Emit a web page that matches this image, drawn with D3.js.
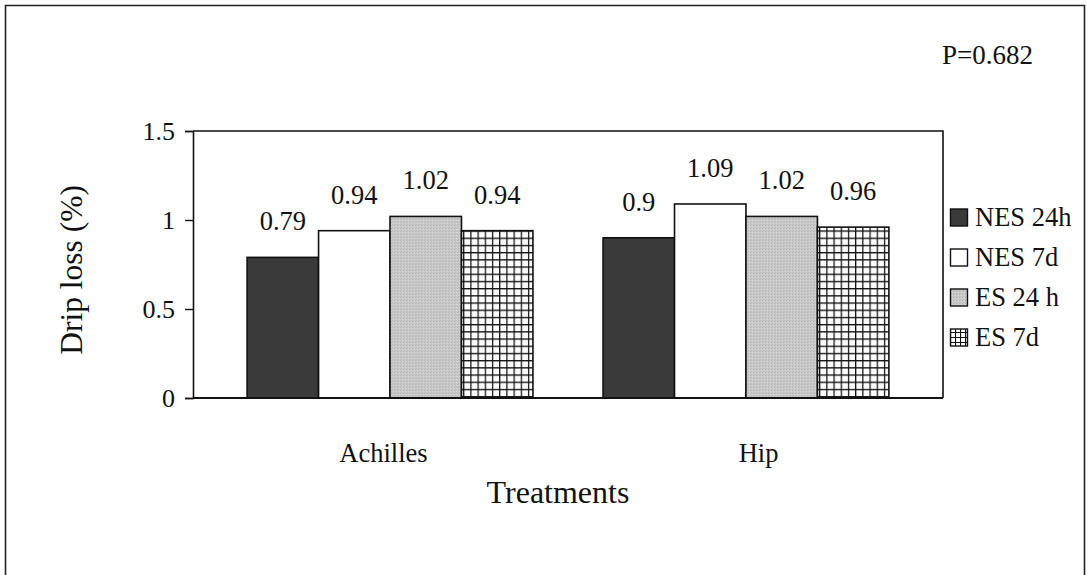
<!DOCTYPE html>
<html>
<head>
<meta charset="utf-8">
<script src="https://cdn.jsdelivr.net/npm/d3@7/dist/d3.min.js"></script>
<style>
  html, body { margin: 0; padding: 0; background: #fff; }
  svg { display: block; }
  text { font-family: "Liberation Serif", "Times New Roman", serif; fill: #111; }
</style>
</head>
<body>
<svg id="chart" width="1087" height="575"></svg>
<script>
// Drip loss by treatment and electrical stimulation / ageing group
const categories = ["Achilles", "Hip"];
const seriesNames = ["NES 24h", "NES 7d", "ES 24 h", "ES 7d"];
const nes24h = [0.79, 0.90];
const nes7d  = [0.94, 1.09];
const es24h  = [1.02, 1.02];
const es7d   = [0.94, 0.96];
const yTicks = [0, 0.5, 1, 1.5];
const pValueText = "P=0.682";

const seriesValues = [nes24h, nes7d, es24h, es7d];
const rows = categories.map((c, ci) => ({
  category: c,
  bars: seriesNames.map((s, si) => ({ series: s, value: seriesValues[si][ci] }))
}));

const svg = d3.select("#chart");
const W = 1087, H = 575;
const plot = { left: 193, right: 943, top: 131, bottom: 398 };

// fills
const defs = svg.append("defs");
const grid = defs.append("pattern")
  .attr("id", "grid").attr("patternUnits", "userSpaceOnUse")
  .attr("width", 7.2).attr("height", 7.2);
grid.append("rect").attr("width", 7.2).attr("height", 7.2).attr("fill", "#fff");
grid.append("path").attr("d", "M0,0.6H7.2M0.6,0V7.2")
  .attr("stroke", "#111").attr("stroke-width", 1.3).attr("fill", "none");

const gridSmall = defs.append("pattern")
  .attr("id", "gridSmall").attr("patternUnits", "userSpaceOnUse")
  .attr("width", 5).attr("height", 5);
gridSmall.append("rect").attr("width", 5).attr("height", 5).attr("fill", "#fff");
gridSmall.append("path").attr("d", "M0,0.5H5M0.5,0V5")
  .attr("stroke", "#111").attr("stroke-width", 1.2).attr("fill", "none");

const stipple = defs.append("pattern")
  .attr("id", "stipple").attr("patternUnits", "userSpaceOnUse")
  .attr("width", 3).attr("height", 3);
stipple.append("rect").attr("width", 3).attr("height", 3).attr("fill", "#c9c9c9");
stipple.append("rect").attr("x", 0).attr("y", 0).attr("width", 1).attr("height", 1).attr("fill", "#b2b2b2");
stipple.append("rect").attr("x", 2).attr("y", 1).attr("width", 1).attr("height", 1).attr("fill", "#d8d8d8");
stipple.append("rect").attr("x", 1).attr("y", 2).attr("width", 1).attr("height", 1).attr("fill", "#bababa");

const fills = d3.scaleOrdinal()
  .domain(seriesNames)
  .range(["#3a3a3a", "#ffffff", "url(#stipple)", "url(#grid)"]);
const legendFills = d3.scaleOrdinal()
  .domain(seriesNames)
  .range(["#3a3a3a", "#ffffff", "url(#stipple)", "url(#gridSmall)"]);

// outer frame
svg.append("path")
  .attr("d", `M5.5,${H}V5.5H1084.5V${H}`)
  .attr("fill", "none").attr("stroke", "#222").attr("stroke-width", 1.6);

// scales
const x0 = d3.scaleBand()
  .domain(categories)
  .range([plot.left, plot.right])
  .paddingInner(0.197)
  .paddingOuter(0.152);
const x1 = d3.scaleBand()
  .domain(seriesNames)
  .range([0, x0.bandwidth()]);
const xLabel = d3.scaleBand()
  .domain(categories)
  .range([plot.left, plot.right]);
const y = d3.scaleLinear().domain([0, 1.5]).range([plot.bottom, plot.top]);

// bars
const groups = svg.append("g").selectAll("g")
  .data(rows).join("g")
  .attr("transform", d => `translate(${x0(d.category)},0)`);

groups.selectAll("rect")
  .data(d => d.bars).join("rect")
  .attr("x", d => x1(d.series))
  .attr("y", d => y(d.value))
  .attr("width", x1.bandwidth())
  .attr("height", d => y(0) - y(d.value))
  .attr("fill", d => fills(d.series))
  .attr("stroke", "#111")
  .attr("stroke-width", 1.6);

groups.selectAll("text.val")
  .data(d => d.bars).join("text")
  .attr("class", "val")
  .attr("x", d => x1(d.series) + x1.bandwidth() / 2)
  .attr("y", d => y(d.value) - 27)
  .attr("text-anchor", "middle")
  .attr("font-size", 26.5)
  .text(d => d3.format("")(d.value));

// plot frame (top and right sides)
svg.append("path")
  .attr("d", `M${plot.left},${plot.top}H${plot.right}V${plot.bottom}`)
  .attr("fill", "none").attr("stroke", "#111").attr("stroke-width", 1.6);

// x axis baseline
svg.append("line")
  .attr("x1", plot.left).attr("x2", plot.right)
  .attr("y1", y(0)).attr("y2", y(0))
  .attr("stroke", "#111").attr("stroke-width", 1.8);

// y axis
const yAxis = svg.append("g")
  .attr("transform", `translate(${plot.left},0)`)
  .call(d3.axisLeft(y).tickValues(yTicks).tickSize(8).tickPadding(10)
    .tickFormat(d3.format("")));
yAxis.select(".domain").attr("stroke", "#111").attr("stroke-width", 1.6);
yAxis.selectAll(".tick line").attr("stroke", "#111").attr("stroke-width", 1.4);
yAxis.selectAll(".tick text")
  .attr("font-family", "'Liberation Serif', 'Times New Roman', serif")
  .attr("font-size", 26).attr("fill", "#111");

// category labels
svg.append("g").selectAll("text")
  .data(categories).join("text")
  .attr("x", d => xLabel(d) + xLabel.bandwidth() / 2 + 3)
  .attr("y", 462)
  .attr("text-anchor", "middle")
  .attr("font-size", 26.5)
  .text(d => d);

// axis titles
svg.append("text")
  .attr("x", 558).attr("y", 503)
  .attr("text-anchor", "middle")
  .attr("font-size", 32)
  .text("Treatments");

svg.append("text")
  .attr("transform", "translate(82,270) rotate(-90)")
  .attr("text-anchor", "middle")
  .attr("font-size", 31.5)
  .text("Drip loss (%)");

// p-value
svg.append("text")
  .attr("x", 942).attr("y", 64)
  .attr("font-size", 27)
  .text(pValueText);

// legend
const legend = svg.append("g").selectAll("g")
  .data(seriesNames).join("g")
  .attr("transform", (d, i) => `translate(950,${217 + i * 40})`);
legend.append("rect")
  .attr("x", 0.5).attr("y", -8)
  .attr("width", 17).attr("height", 17)
  .attr("fill", d => legendFills(d))
  .attr("stroke", "#111").attr("stroke-width", 1.4);
legend.append("text")
  .attr("x", 25).attr("y", 9)
  .attr("font-size", 26.5)
  .text(d => d);
</script>
</body>
</html>
